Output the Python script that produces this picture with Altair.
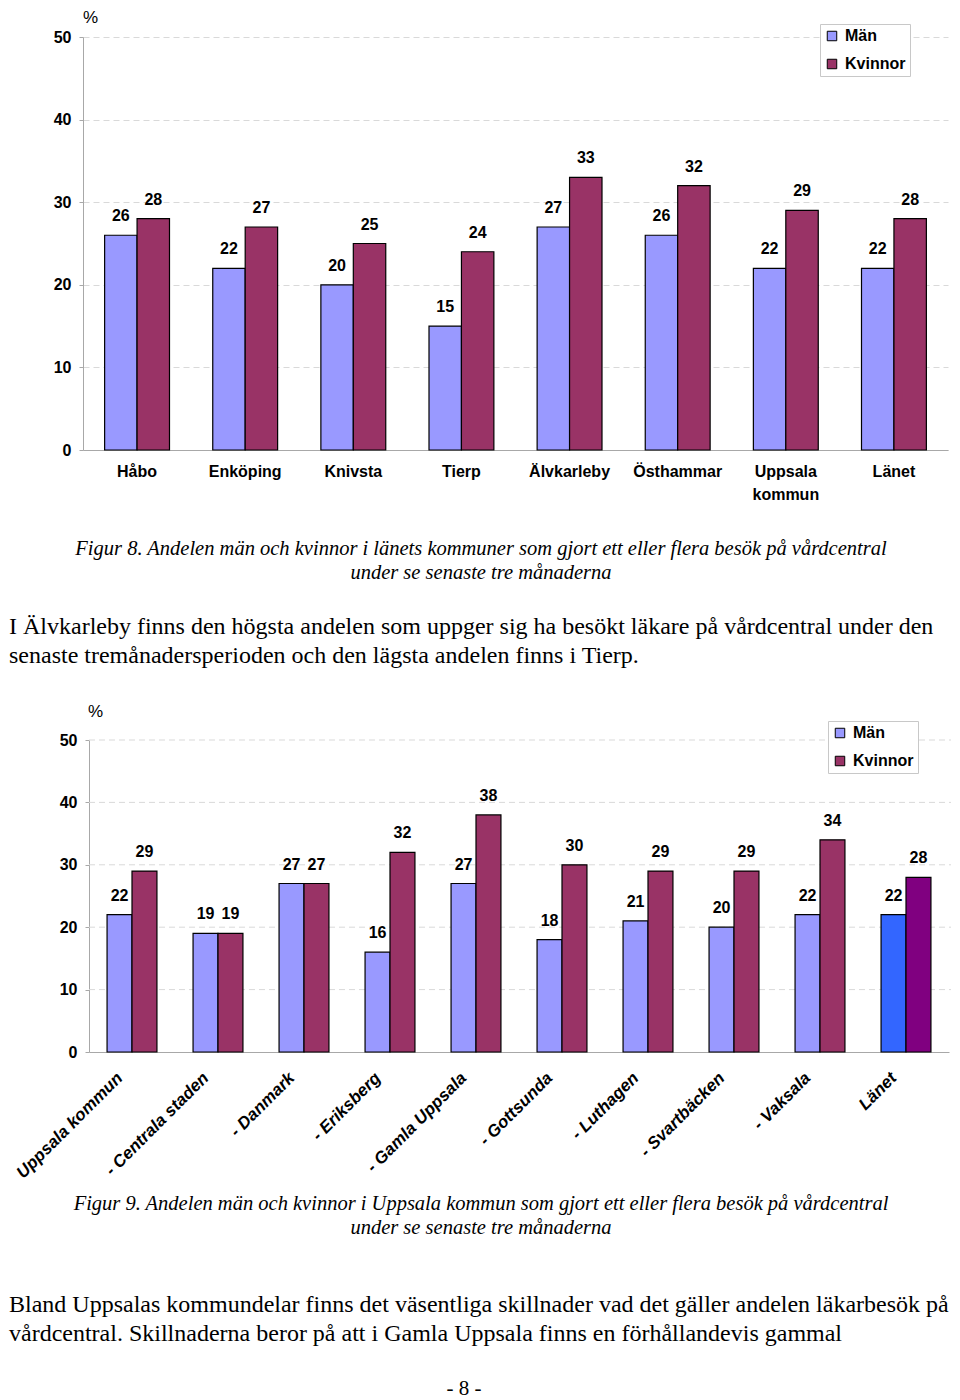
import altair as alt
import pandas as pd

# ---------------- data ----------------
kon = ["Män", "Kvinnor"]

kommuner = ["Håbo", "Enköping", "Knivsta", "Tierp", "Älvkarleby", "Östhammar",
            "Uppsala kommun", "Länet"]
kommun_man = [26, 22, 20, 15, 27, 26, 22, 22]
kommun_kvinnor = [28, 27, 25, 24, 33, 32, 29, 28]

delar = ["Uppsala kommun", "- Centrala staden", "- Danmark", "- Eriksberg",
         "- Gamla Uppsala", "- Gottsunda", "- Luthagen", "- Svartbäcken",
         "- Vaksala", "Länet"]
delar_man = [22, 19, 27, 16, 27, 18, 21, 20, 22, 22]
delar_kvinnor = [29, 19, 27, 32, 38, 30, 29, 29, 34, 28]

y_ticks = [0, 10, 20, 30, 40, 50]

caption8 = ["Figur 8. Andelen män och kvinnor i länets kommuner som gjort ett eller flera besök på vårdcentral",
            "under se senaste tre månaderna"]
para1 = ["I Älvkarleby finns den högsta andelen som uppger sig ha besökt läkare på vårdcentral under den",
         "senaste tremånadersperioden och den lägsta andelen finns i Tierp."]
caption9 = ["Figur 9. Andelen män och kvinnor i Uppsala kommun som gjort ett eller flera besök på vårdcentral",
            "under se senaste tre månaderna"]
para2 = ["Bland Uppsalas kommundelar finns det väsentliga skillnader vad det gäller andelen läkarbesök på",
         "vårdcentral. Skillnaderna beror på att i Gamla Uppsala finns en förhållandevis gammal"]
page_no = "- 8 -"

# ---------------- styles ----------------
SANS = "Liberation Sans"
SERIF = "Liberation Serif"
C_MAN, C_KV = "#9999FF", "#993366"
C_MAN_L, C_KV_L = "#3366FF", "#800080"
AX = "#a8a8a8"
GRID = "#d9d9d9"
CAP = 20.5
PARA = 24

rows1 = []
for k, m, w in zip(kommuner, kommun_man, kommun_kvinnor):
    rows1.append({"Kategori": k, "Kön": "Män", "Andel": m})
    rows1.append({"Kategori": k, "Kön": "Kvinnor", "Andel": w})
df1 = pd.DataFrame(rows1)

rows2 = []
for k, m, w in zip(delar, delar_man, delar_kvinnor):
    suf = " (Länet)" if k == "Länet" else ""
    rows2.append({"Kategori": k, "Kön": "Män", "Andel": m, "Färg": "Män" + suf})
    rows2.append({"Kategori": k, "Kön": "Kvinnor", "Andel": w, "Färg": "Kvinnor" + suf})
df2 = pd.DataFrame(rows2)


def note(text, x, y, font, size, style="normal", align="center", baseline="middle"):
    return alt.Chart(pd.DataFrame({"t": [text]})).mark_text(
        font=font, fontSize=size, fontStyle=style, align=align,
        baseline=baseline, color="black"
    ).encode(x=alt.value(x), y=alt.value(y), text="t:N")


def legend(x, y, values=None):
    kw = dict(title=None, orient="none", legendX=x, legendY=y, direction="vertical",
              symbolType="square", symbolSize=90, symbolStrokeColor="black",
              symbolStrokeWidth=1, labelFont=SANS, labelFontWeight="bold",
              labelFontSize=16, labelColor="black", strokeColor="#c8c8c8",
              fillColor="white", padding=4, rowPadding=12, labelOffset=5)
    if values is not None:
        kw["values"] = values
    return alt.Legend(**kw)


# ---------------- top chart ----------------
W1, H1 = 865, 413
x1 = alt.X("Kategori:N", sort=kommuner,
           scale=alt.Scale(paddingInner=0.4, paddingOuter=0.2),
           axis=alt.Axis(title=None, labelAngle=0, ticks=False, domainColor=AX,
                         labelFont=SANS, labelFontWeight="bold", labelFontSize=16,
                         labelColor="black", labelPadding=13, labelLineHeight=23,
                         labelExpr="datum.label == 'Uppsala kommun' ? ['Uppsala', 'kommun'] : datum.label"))
y1 = alt.Y("Andel:Q", scale=alt.Scale(domain=[0, 50], nice=False),
           axis=alt.Axis(title=None, values=y_ticks, grid=True, gridDash=[6, 4],
                         gridColor=GRID, domainColor=AX, tickColor=AX, tickSize=4,
                         labelFont=SANS, labelFontWeight="bold", labelFontSize=16,
                         labelColor="black", labelPadding=8))

bars1 = alt.Chart(df1).mark_bar(stroke="black", strokeWidth=1.2).encode(
    x=x1, xOffset=alt.XOffset("Kön:N", sort=kon), y=y1,
    color=alt.Color("Kön:N", scale=alt.Scale(domain=kon, range=[C_MAN, C_KV]),
                    legend=legend(737, -13)))
labels1 = alt.Chart(df1).mark_text(font=SANS, fontWeight="bold", fontSize=16,
                                   dy=-19, baseline="middle", color="black").encode(
    x=alt.X("Kategori:N", sort=kommuner), xOffset=alt.XOffset("Kön:N", sort=kon),
    y="Andel:Q", text="Andel:Q")

top = alt.layer(
    bars1, labels1,
    note("%", 0, -27, SANS, 17, align="left", baseline="top"),
    note(caption8[0], 398, 512, SERIF, CAP, style="italic"),
    note(caption8[1], 398, 536, SERIF, CAP, style="italic"),
    note(para1[0], -74, 590, SERIF, PARA, align="left"),
    note(para1[1], -74, 619, SERIF, PARA, align="left"),
).properties(width=W1, height=H1)

# ---------------- bottom chart ----------------
W2, H2 = 866, 312
x2 = alt.X("Kategori:N", sort=delar,
           scale=alt.Scale(range=[6, 866], paddingInner=0.42, paddingOuter=0.21),
           axis=alt.Axis(title=None, labelAngle=-45, labelAlign="right",
                         labelBaseline="middle", ticks=False, domainColor=AX,
                         labelFont=SANS, labelFontWeight="bold", labelFontStyle="italic",
                         labelFontSize=17, labelColor="black", labelPadding=23,
                         labelOffset=-12))
y2 = alt.Y("Andel:Q", scale=alt.Scale(domain=[0, 50], nice=False),
           axis=alt.Axis(title=None, values=y_ticks, grid=False, offset=-6,
                         domainColor=AX, tickColor=AX, tickSize=4,
                         labelFont=SANS, labelFontWeight="bold", labelFontSize=16,
                         labelColor="black", labelPadding=8))

grid2 = alt.Chart(pd.DataFrame({"v": y_ticks[1:]})).mark_rule(
    color=GRID, strokeDash=[6, 4]).encode(
    y=alt.Y("v:Q"), x=alt.value(6), x2=alt.value(868))

bars2 = alt.Chart(df2).mark_bar(stroke="black", strokeWidth=1.2).encode(
    x=x2, xOffset=alt.XOffset("Kön:N", sort=kon), y=y2,
    color=alt.Color("Färg:N",
                    scale=alt.Scale(domain=["Män", "Kvinnor", "Män (Länet)", "Kvinnor (Länet)"],
                                    range=[C_MAN, C_KV, C_MAN_L, C_KV_L]),
                    legend=legend(745, -19, values=["Män", "Kvinnor"])))
labels2 = alt.Chart(df2).mark_text(font=SANS, fontWeight="bold", fontSize=16,
                                   dy=-19, baseline="middle", color="black").encode(
    x=alt.X("Kategori:N", sort=delar), xOffset=alt.XOffset("Kön:N", sort=kon),
    y="Andel:Q", text="Andel:Q")

bottom = alt.layer(
    grid2, bars2, labels2,
    note("%", 5, -28, SANS, 17, align="left"),
    note(caption9[0], 398, 464, SERIF, CAP, style="italic"),
    note(caption9[1], 398, 488, SERIF, CAP, style="italic"),
    note(para2[0], -74, 565, SERIF, PARA, align="left"),
    note(para2[1], -74, 594, SERIF, PARA, align="left"),
    note(page_no, 381, 649, SERIF, 21),
).properties(width=W2, height=H2)

chart = alt.vconcat(top, bottom, spacing=290, bounds="flush").resolve_scale(
    x="independent", y="independent", color="independent", xOffset="independent"
).resolve_legend(color="independent").properties(padding=0).configure_view(
    stroke="transparent")

chart.save("out.html", embed_options={"renderer": "svg", "actions": False})
